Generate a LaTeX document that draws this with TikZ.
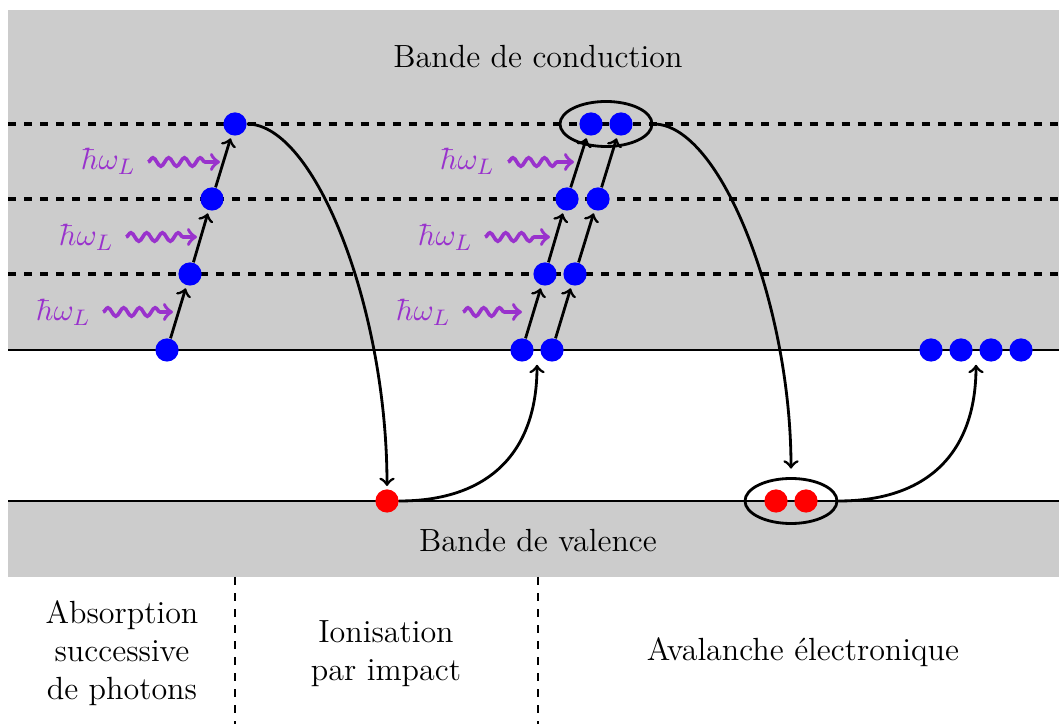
\documentclass[tikz,border=0pt]{standalone}
\usepackage{fontspec}
\usetikzlibrary{shapes.geometric,decorations.pathmorphing}
\definecolor{bandgray}{gray}{0.8}
\definecolor{photon}{RGB}{153,50,204}
\begin{document}
\begin{tikzpicture}[x=0.0125cm,y=-0.0125cm,
  font=\fontsize{11.4}{13.6}\selectfont,
  dot/.style={circle,inner sep=0pt,minimum size=0.29cm},
  elec/.style={dot,fill=blue},
  hole/.style={dot,fill=red},
  level/.style={line width=1.15pt,dash pattern=on 2.85pt off 2.85pt},
  edge/.style={line width=0.5pt},
  sep/.style={line width=0.4pt,dash pattern=on 2.85pt off 2.85pt},
  jump/.style={->,line width=1pt,shorten >=1pt},
  pair/.style={ellipse,draw,line width=1pt,inner sep=0pt,minimum width=1.15cm,minimum height=0.5625cm},
  wave/.style={->,photon,line width=1.3pt,decorate,decoration={snake,amplitude=1.5pt,segment length=5.6pt,post length=4pt}},
  hw/.style={text=photon,inner sep=0pt}]
\useasboundingbox (0,0) rectangle (1059,724);
% bands
\fill[bandgray] (8,10) rectangle (1059,350);
\fill[bandgray] (8,501) rectangle (1059,577);
\draw[level] (8,124) -- (1059,124);
\draw[level] (8,199) -- (1059,199);
\draw[level] (8,274) -- (1059,274);
\draw[edge] (8,350) -- (1059,350);
\draw[edge] (8,501) -- (1059,501);
\draw[sep] (235,577) -- (235,724);
\draw[sep] (538,577) -- (538,724);
% texts
\node (cb) at (538,57) {Bande de conduction};
\node (vb) at (538,541) {Bande de valence};
\node[align=center] (t1) at (122,653) {Absorption\\successive\\de photons};
\node[align=center] (t2) at (386,654) {Ionisation\\par impact};
\node (t3) at (803,652) {Avalanche électronique};
% group 1
\node[elec] (a1) at (167,350) {};
\node[elec] (a2) at (190,274) {};
\node[elec] (a3) at (212,199) {};
\node[elec] (a4) at (235,124) {};
\draw[jump] (a1) -- (a2);
\draw[jump] (a2) -- (a3);
\draw[jump] (a3) -- (a4);
\node[hw] (h1) at (63,312) {$\hbar\omega_L$};
\node[hw] (h2) at (86,237) {$\hbar\omega_L$};
\node[hw] (h3) at (108,161) {$\hbar\omega_L$};
\coordinate (w1s) at (103,312); \coordinate (w1e) at (173,312);
\coordinate (w2s) at (126,237); \coordinate (w2e) at (197,237);
\coordinate (w3s) at (148,162); \coordinate (w3e) at (220,162);
\draw[wave] (w1s) -- (w1e);
\draw[wave] (w2s) -- (w2e);
\draw[wave] (w3s) -- (w3e);
% group 2
\node[elec] (p1) at (522,350) {};
\node[elec] (q1) at (552,350) {};
\node[elec] (p2) at (545,274) {};
\node[elec] (q2) at (575,274) {};
\node[elec] (p3) at (567,199) {};
\node[elec] (q3) at (598,199) {};
\node[elec] (p4) at (591,124) {};
\node[elec] (q4) at (621,124) {};
\node[pair] (e1) at (606,124) {};
\draw[jump] (p1) -- (p2);
\draw[jump] (q1) -- (q2);
\draw[jump] (p2) -- (p3);
\draw[jump] (q2) -- (q3);
\draw[jump] (p3) -- (p4);
\draw[jump] (q3) -- (q4);
\node[hw] (h4) at (423,312) {$\hbar\omega_L$};
\node[hw] (h5) at (445,237) {$\hbar\omega_L$};
\node[hw] (h6) at (467,161) {$\hbar\omega_L$};
\coordinate (w4s) at (463,312); \coordinate (w4e) at (522,312);
\coordinate (w5s) at (485,237); \coordinate (w5e) at (550,237);
\coordinate (w6s) at (508,162); \coordinate (w6e) at (574,162);
\draw[wave] (w4s) -- (w4e);
\draw[wave] (w5s) -- (w5e);
\draw[wave] (w6s) -- (w6e);
% holes
\node[hole] (r1) at (387,501) {};
\node[hole] (r2) at (776,501) {};
\node[hole] (r3) at (806,501) {};
\node[pair] (e2) at (791,501) {};
% avalanche electrons
\node[elec] (f1) at (931,350) {};
\node[elec] (f2) at (961,350) {};
\node[elec] (f3) at (991,350) {};
\node[elec] (f4) at (1021,350) {};
\coordinate (c1) at (537,362);
\coordinate (c2) at (976,362);
% curves
\draw[jump] (a4.east) .. controls +(68,0) and +(0,-180) .. (r1.north);
\draw[jump,shorten >=3pt] (e1.east) .. controls +(68,0) and +(0,-170) .. (e2.north);
\draw[jump] (r1.east) .. controls +(90,0) and +(0,90) .. (c1);
\draw[jump] (e2.east) .. controls +(90,0) and +(0,90) .. (c2);
\end{tikzpicture}
\end{document}
